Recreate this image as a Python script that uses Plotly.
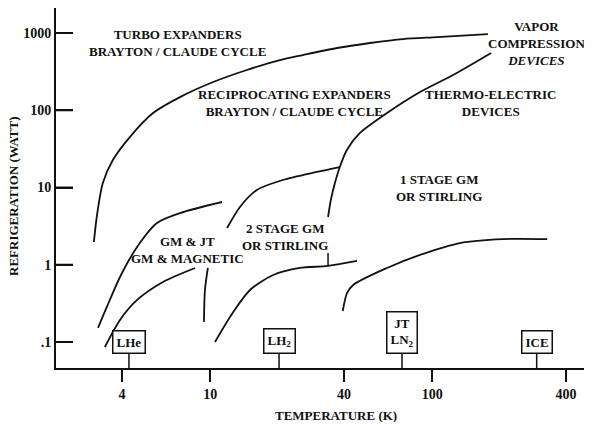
import math
import plotly.graph_objects as go

# ---- data (temperature K, refrigeration W) ----
turbo_T = [2.99, 3.08, 3.28, 3.64, 4.34, 5.52, 7.30, 10.3, 14.6, 20.6, 26.1, 37.2, 52.4, 73.8, 105, 178]
turbo_W = [1.97, 4.15, 11.4, 22.7, 45, 92, 148, 232, 332, 447, 519, 640, 743, 836, 887, 970]

thermo_T = [33.9, 34.9, 36.4, 38.3, 41.2, 47.2, 62.5, 88, 124, 184]
thermo_W = [4.15, 6.89, 11.4, 18.4, 30.6, 50.8, 92, 172, 286, 551]

recip_T = [11.9, 13.6, 16.2, 21.2, 30.2, 38.3]
recip_W = [2.99, 5.6, 9.3, 12.5, 15.9, 18.4]

gmjt_T = [3.12, 3.42, 3.92, 4.68, 5.75, 7.30, 11.3]
gmjt_W = [0.152, 0.284, 0.694, 1.70, 3.47, 4.67, 6.49]

gmmag_T = [3.35, 3.92, 4.68, 6.12, 8.54]
gmmag_W = [0.086, 0.193, 0.350, 0.598, 0.908]

short10_T = [9.75, 9.46, 9.36]
short10_W = [0.908, 0.471, 0.182]

stage2_T = [10.5, 12.6, 15.1, 19.2, 25.3, 33.9, 45.8]
stage2_W = [0.100, 0.237, 0.471, 0.736, 0.908, 0.964, 1.12]

stage2_tick_T = [33.9, 33.9]
stage2_tick_W = [0.964, 1.42]

stage1_T = [39.5, 41.3, 44.0, 62.5, 88, 133, 208, 329]
stage1_W = [0.252, 0.431, 0.547, 0.908, 1.34, 1.91, 2.15, 2.15]

ref_names = ["LHe", "LH<sub>2</sub>", "JT<br>LN<sub>2</sub>", "ICE"]
ref_T = [4.3, 20.4, 73, 295]

x_ticks = [4, 10, 40, 100, 400]
x_ticktext = ["4", "10", "40", "100", "400"]
y_ticks = [0.1, 1, 10, 100, 1000]
y_ticktext = [".1", "1", "10", "100", "1000"]

FONT = "Liberation Serif"
INK = "#111111"

# page body has an 8px margin, so the figure is sized to fit inside the window
FW, FH = 576, 414
L, R, T_, B = 48, 0, 0, 54
PW, PH = FW - L - R, FH - T_ - B
XR = [0.305, 2.683]
YR = [-1.337, 3.324]

fig = go.Figure()

curves = [
    (turbo_T, turbo_W), (thermo_T, thermo_W), (recip_T, recip_W),
    (gmjt_T, gmjt_W), (gmmag_T, gmmag_W), (short10_T, short10_W),
    (stage2_T, stage2_W), (stage1_T, stage1_W),
]
for Tv, Wv in curves:
    fig.add_trace(go.Scatter(x=Tv, y=Wv, mode="lines",
                             line=dict(color=INK, width=1.8, shape="spline", smoothing=0.8),
                             hoverinfo="skip", showlegend=False))
fig.add_trace(go.Scatter(x=stage2_tick_T, y=stage2_tick_W, mode="lines",
                         line=dict(color=INK, width=1.5), showlegend=False, hoverinfo="skip"))

# reference-point stems
box_bottom_W = 0.070
axis_bottom_W = 10 ** YR[0]
for Tv in ref_T:
    fig.add_trace(go.Scatter(x=[Tv, Tv], y=[axis_bottom_W, box_bottom_W], mode="lines",
                             line=dict(color=INK, width=1.5), showlegend=False, hoverinfo="skip"))

# y tick marks (inside, 17 px long) drawn as short line traces at the tick values
x_left = 10 ** XR[0]
x_tick_end = 10 ** (XR[0] + 17 / PW * (XR[1] - XR[0]))
for v in y_ticks:
    fig.add_trace(go.Scatter(x=[x_left, x_tick_end], y=[v, v], mode="lines",
                             line=dict(color=INK, width=2), showlegend=False, hoverinfo="skip"))

# x tick marks (outside, 12 px long) drawn as vertical-line markers below the axis
y_tick_mid = 10 ** (YR[0] - 6 / PH * (YR[1] - YR[0]))
fig.add_trace(go.Scatter(x=x_ticks, y=[y_tick_mid] * len(x_ticks), mode="markers",
                         cliponaxis=False,
                         marker=dict(symbol="line-ns", size=12, color=INK,
                                     line=dict(color=INK, width=2)),
                         showlegend=False, hoverinfo="skip"))

annos = []
for name, Tv in zip(ref_names, ref_T):
    annos.append(dict(x=math.log10(Tv), y=math.log10(box_bottom_W), xref="x", yref="y",
                      text=f"<b>{name}</b>", showarrow=False, xanchor="center", yanchor="bottom",
                      bordercolor=INK, borderwidth=1.5, borderpad=3, bgcolor="white",
                      font=dict(family=FONT, size=13, color=INK)))

labels = [
    (0.850, 2.871, "TURBO EXPANDERS<br>BRAYTON / CLAUDE CYCLE"),
    (1.381, 2.094, "RECIPROCATING EXPANDERS<br>BRAYTON / CLAUDE CYCLE"),
    (2.470, 2.858, "VAPOR<br>COMPRESSION<br><i>DEVICES</i>"),
    (2.260, 2.094, "THERMO-ELECTRIC<br>DEVICES"),
    (2.030, 0.994, "1 STAGE GM<br>OR STIRLING"),
    (1.336, 0.359, "2 STAGE GM<br>OR STIRLING"),
    (0.899, 0.191, "GM &amp; JT<br>GM &amp; MAGNETIC"),
]
for lx, ly, txt in labels:
    annos.append(dict(x=lx, y=ly, xref="x", yref="y", text=f"<b>{txt}</b>", showarrow=False,
                      xanchor="center", yanchor="middle", align="center",
                      font=dict(family=FONT, size=13, color=INK)))

# axis titles (pixel-derived paper positions)
annos.append(dict(x=(328 - L) / PW, y=(FH - 407 - B) / PH, xref="paper", yref="paper",
                  text="<b>TEMPERATURE (K)</b>", showarrow=False, xanchor="center", yanchor="middle",
                  font=dict(family=FONT, size=13, color=INK)))
annos.append(dict(x=(6 - L) / PW, y=(FH - 188 - B) / PH, xref="paper", yref="paper",
                  text="<b>REFRIGERATION (WATT)</b>", showarrow=False, textangle=-90,
                  xanchor="center", yanchor="middle",
                  font=dict(family=FONT, size=13, color=INK)))

fig.update_layout(
    width=FW, height=FH,
    margin=dict(l=L, r=R, t=T_, b=B, autoexpand=False),
    paper_bgcolor="white", plot_bgcolor="white",
    showlegend=False,
    annotations=annos,
    xaxis=dict(type="log", range=XR, tickvals=x_ticks,
               ticktext=[f"<b>{t}</b>" for t in x_ticktext],
               ticks="outside", ticklen=12, tickwidth=2, tickcolor=INK,
               showline=True, linecolor=INK, linewidth=2, mirror=True,
               showgrid=False,
               tickfont=dict(family=FONT, size=14, color=INK)),
    yaxis=dict(type="log", range=YR, tickvals=y_ticks,
               ticktext=[f"<b>{t}</b>" for t in y_ticktext],
               ticks="inside", ticklen=17, tickwidth=2, tickcolor=INK,
               showline=True, linecolor=INK, linewidth=2,
               showgrid=False,
               tickfont=dict(family=FONT, size=14, color=INK)),
)

fig.write_html("out.html")
